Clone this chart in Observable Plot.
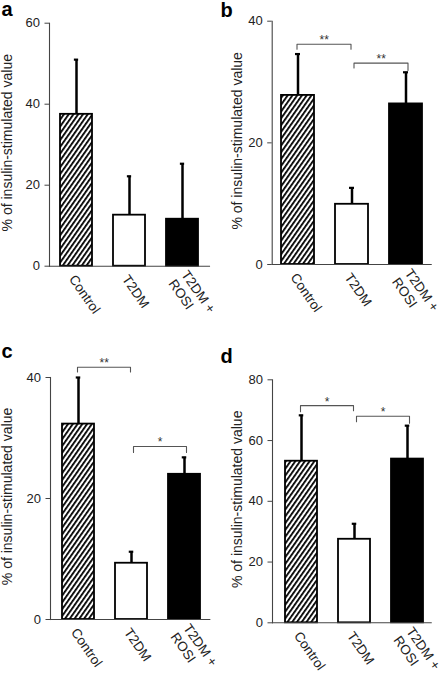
<!DOCTYPE html>
<html><head><meta charset="utf-8">
<script src="https://cdn.jsdelivr.net/npm/d3@7"></script>
<script src="https://cdn.jsdelivr.net/npm/@observablehq/plot@0.6"></script>
<style>
html,body{margin:0;padding:0;background:#fff;}
#fig{position:relative;width:440px;height:673px;overflow:hidden;}
#fig svg.panel{position:absolute;}
</style></head><body>
<svg width="0" height="0" style="position:absolute">
  <defs>
    <pattern id="hatch" patternUnits="userSpaceOnUse" width="3.9" height="10" patternTransform="rotate(35)">
      <rect width="3.9" height="10" fill="white"/>
      <rect width="1.8" height="10" fill="black"/>
    </pattern>
  </defs>
</svg>
<div id="fig"></div>
<script>
// ---- data ----
const categories = ["Control", "T2DM", "T2DM + ROSI"];
const tickLabels = ["Control", "T2DM", "T2DM +\nROSI"];
const yLabel = "% of insulin-stimulated value";
const panelLetters = ["a", "b", "c", "d"];

const meanA = [37.5, 12.6, 11.6];
const errA  = [13.5, 9.6, 13.7];
const meanB = [27.8, 9.9, 26.4];
const errB  = [6.8, 2.7, 5.2];
const meanC = [32.3, 9.3, 24.0];
const errC  = [7.7, 1.9, 2.8];
const meanD = [53.2, 27.5, 53.9];
const errD  = [15.1, 5.1, 11.0];

const ticksA = [0, 20, 40, 60];
const ticksB = [0, 20, 40];
const ticksC = [0, 20, 40];
const ticksD = [0, 20, 40, 60, 80];

const bracketsA = [];
const bracketsB = [
  {from: "Control", to: "T2DM", y: 36.2, yFrom: 35.4, yTo: 35.4, stars: "**"},
  {from: "T2DM", to: "T2DM + ROSI", y: 33.1, yFrom: 32.3, yTo: 31.9, stars: "**"}
];
const bracketsC = [
  {from: "Control", to: "T2DM", y: 41.7, yFrom: 40.9, yTo: 40.9, stars: "**"},
  {from: "T2DM", to: "T2DM + ROSI", y: 28.6, yFrom: 27.6, yTo: 27.6, stars: "*"}
];
const bracketsD = [
  {from: "Control", to: "T2DM", y: 71.5, yFrom: 69.5, yTo: 69.8, stars: "*"},
  {from: "T2DM", to: "T2DM + ROSI", y: 68.0, yFrom: 66.2, yTo: 65.7, stars: "*"}
];

// ---- styles / layout ----
const fills = ["url(#hatch)", "white", "black"];
const FONT = "'Liberation Sans', Arial, Helvetica, sans-serif";
const W = 220;
const layouts = [
  {left: 0,   top: 0,   height: 336, mt: 22.7, mb: 70.3, ml: 49,   mr: 11,   pi: 0.387, po: 0.191, align: 0.5,  labelX: 2,  letterX: 1, letterY: 15.5},
  {left: 220, top: 0,   height: 336, mt: 20.7, mb: 72,   ml: 51.7, mr: 9.3,  pi: 0.394, po: 0.157, align: 0.5,  labelX: 11.7, letterX: 0, letterY: 16.5},
  {left: 0,   top: 336, height: 337, mt: 41,   mb: 54,   ml: 50,   mr: 10.7, pi: 0.39,  po: 0.19,  align: 0.55, labelX: 2,  letterX: 1, letterY: 21},
  {left: 220, top: 336, height: 337, mt: 43.3, mb: 50.7, ml: 52,   mr: 9.3,  pi: 0.387, po: 0.19,  align: 0.64, labelX: 12, letterX: 0, letterY: 26}
];
const panels = [
  {letter: panelLetters[0], mean: meanA, err: errA, ticks: ticksA, brackets: bracketsA},
  {letter: panelLetters[1], mean: meanB, err: errB, ticks: ticksB, brackets: bracketsB},
  {letter: panelLetters[2], mean: meanC, err: errC, ticks: ticksC, brackets: bracketsC},
  {letter: panelLetters[3], mean: meanD, err: errD, ticks: ticksD, brackets: bracketsD}
];

function makePanel(p, L) {
  const data = categories.map((c, i) => ({cat: c, mean: p.mean[i], err: p.err[i]}));
  const band = d3.scaleBand().domain(categories).range([L.ml, W - L.mr])
    .paddingInner(L.pi).paddingOuter(L.po).align(L.align);
  const bw = band.bandwidth(), step = band.step();
  const capW = 5;
  const bracketMarks = p.brackets.flatMap((b, k) => {
    const off = k === 0 ? -1 : 2;
    return [
      Plot.line([{x: b.from, y: b.yFrom}, {x: b.from, y: b.y}, {x: b.to, y: b.y}, {x: b.to, y: b.yTo}],
        {x: "x", y: "y", stroke: "#555", strokeWidth: 1.1, dx: off}),
      Plot.text([b], {x: "from", y: "y", text: "stars", dx: step / 2 + off, dy: 0,
        lineAnchor: "bottom", textAnchor: "middle", fontSize: 12, fill: "#333"})
    ];
  });
  const svg = Plot.plot({
    width: W, height: L.height,
    marginTop: L.mt, marginBottom: L.mb, marginLeft: L.ml, marginRight: L.mr,
    style: {fontFamily: FONT, fontSize: "12px", color: "#222", background: "transparent", overflow: "visible"},
    x: {type: "band", domain: categories, paddingInner: L.pi, paddingOuter: L.po, align: L.align},
    y: {domain: [0, p.ticks[p.ticks.length - 1]]},
    color: {domain: categories, range: fills},
    marks: [
      Plot.ruleX(data, {x: "cat", y1: "mean", y2: d => d.mean + d.err, stroke: "#000", strokeWidth: 2.5}),
      Plot.tickY(data, {x: "cat", y: d => d.mean + d.err, stroke: "#000", strokeWidth: 2.2,
        insetLeft: (bw - capW) / 2, insetRight: (bw - capW) / 2}),
      Plot.barY(data, {x: "cat", y: "mean", fill: "cat", stroke: "#000", strokeWidth: 1.8}),
      ...bracketMarks,
      Plot.frame({anchor: "left", stroke: "#444", strokeWidth: 1.1}),
      Plot.frame({anchor: "bottom", stroke: "#444", strokeWidth: 1.1}),
      Plot.axisY({ticks: p.ticks, tickSize: 4.5, tickPadding: 5, fontSize: 13, label: null, stroke: "#444"}),
      Plot.axisX({tickSize: 0, tickRotate: 55, tickPadding: 10, dx: -4, fontSize: 13.5, lineHeight: 1.15,
        tickFormat: d => tickLabels[categories.indexOf(d)], label: null}),
      Plot.text([yLabel], {frameAnchor: "left", text: d => d, rotate: -90, lineAnchor: "top",
        textAnchor: "middle", dx: L.labelX - L.ml, dy: -2, fontSize: 14, fill: "#222"}),
      Plot.text([p.letter], {frameAnchor: "top-left", text: d => d, dx: L.letterX - L.ml, dy: L.letterY - L.mt,
        lineAnchor: "bottom", textAnchor: "start", fontSize: 20, fontWeight: "bold", fill: "#000"})
    ]
  });
  svg.classList.add("panel");
  svg.style.left = L.left + "px";
  svg.style.top = L.top + "px";
  return svg;
}

const fig = document.getElementById("fig");
panels.forEach((p, i) => fig.appendChild(makePanel(p, layouts[i])));
</script>
</body></html>
